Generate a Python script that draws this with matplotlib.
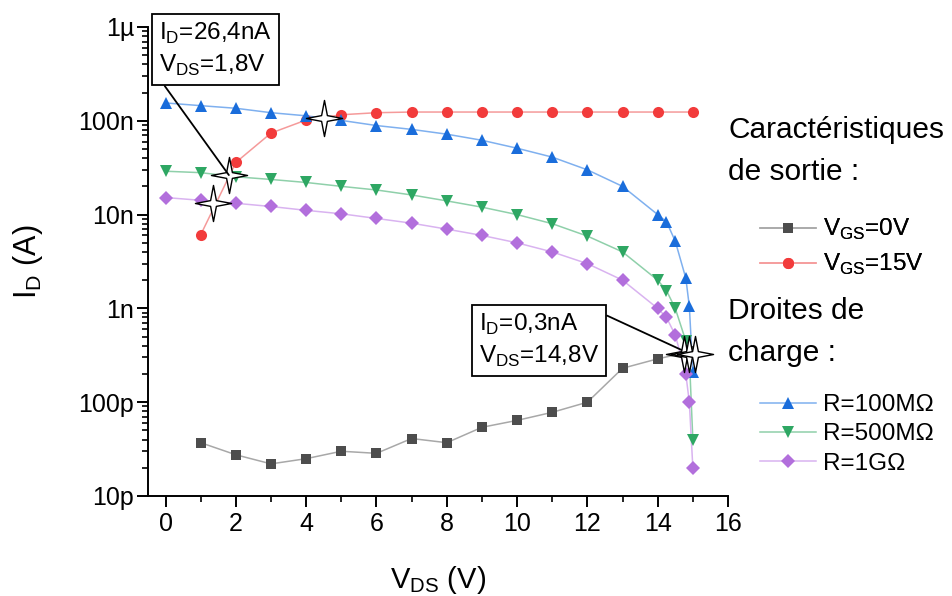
import numpy as np
import matplotlib
matplotlib.use('Agg')
import matplotlib.pyplot as plt
from matplotlib.path import Path
from matplotlib.lines import Line2D
from matplotlib.ticker import FixedLocator, LogLocator, NullFormatter, MultipleLocator

plt.rcParams['font.family'] = ['Liberation Sans', 'DejaVu Sans']

# output characteristics
vds_vgs0 = [1, 2, 3, 4, 5, 6, 7, 8, 9, 10, 11, 12, 13, 14, 15]
id_vgs0 = [37e-12, 27.5e-12, 22e-12, 25e-12, 30e-12, 28.5e-12, 41e-12, 37e-12, 54e-12,
           64e-12, 78e-12, 100e-12, 230e-12, 290e-12, 350e-12]

vds_vgs15 = [1, 2, 3, 4, 5, 6, 7, 8, 9, 10, 11, 12, 13, 14, 15]
id_vgs15 = [6.1e-9, 36e-9, 74e-9, 102e-9, 116e-9, 122e-9, 124e-9, 124e-9, 124e-9,
            124e-9, 124e-9, 124e-9, 124e-9, 124e-9, 124e-9]

# load lines
vds_load = [0, 1, 2, 3, 4, 5, 6, 7, 8, 9, 10, 11, 12, 13, 14, 14.25, 14.5, 14.8, 14.9, 15]
id_r100m = [155e-9, 145e-9, 136e-9, 122e-9, 113e-9, 101e-9, 89e-9, 81e-9, 72e-9, 62e-9,
            51e-9, 41e-9, 30e-9, 20e-9, 10e-9, 8.4e-9, 5.2e-9, 2.1e-9, 1.05e-9, 0.21e-9]
id_r500m = [29e-9, 28e-9, 25.3e-9, 23.7e-9, 22e-9, 20e-9, 18.3e-9, 16.2e-9, 14e-9, 12e-9,
            10e-9, 8e-9, 5.9e-9, 4e-9, 2e-9, 1.55e-9, 1.0e-9, 0.45e-9, 0.3e-9, 0.04e-9]
id_r1g = [15.2e-9, 14.2e-9, 13.2e-9, 12.2e-9, 11.1e-9, 10.2e-9, 9.1e-9, 8.1e-9, 7e-9, 6e-9,
          5e-9, 4e-9, 3e-9, 2e-9, 1e-9, 0.8e-9, 0.52e-9, 0.2e-9, 0.1e-9, 0.02e-9]

# operating points (stars)
star_x = [1.8, 1.35, 4.5, 14.75, 14.9, 15.05]
star_y = [26.4e-9, 13.4e-9, 106e-9, 0.33e-9, 0.33e-9, 0.33e-9]

ytick_vals = [1e-11, 1e-10, 1e-9, 1e-8, 1e-7, 1e-6]
ytick_labels = ['10p', '100p', '1n', '10n', '100n', '1µ']

fig = plt.figure(figsize=(9.53, 5.96), dpi=100)
ax = fig.add_axes([148 / 953, 1 - 496 / 596, (728 - 148) / 953, (496 - 27) / 596])

series = [
    (vds_vgs0, id_vgs0, 's', '#4d4d4d', '#a8a8a8', 7, 'V$_\\mathregular{GS}$=0V'),
    (vds_vgs15, id_vgs15, 'o', '#f23b3b', '#f59a9a', 8, 'V$_\\mathregular{GS}$=15V'),
    (vds_load, id_r100m, '^', '#1a6ddb', '#7fb0ef', 9, 'R=100MΩ'),
    (vds_load, id_r500m, 'v', '#2ea763', '#8fd0aa', 9, 'R=500MΩ'),
    (vds_load, id_r1g, 'D', '#b26fdc', '#d9b3f0', 7, 'R=1GΩ'),
]
handles = []
for x, y, m, mc, lc, ms, lab in series:
    ax.plot(x, y, '-', color=lc, lw=1.1, zorder=2)
    ax.plot(x, y, m, color=mc, ms=ms, mew=0, zorder=3)
    handles.append(Line2D([], [], color=lc, lw=1.1, marker=m, mfc=mc, mec=mc, ms=ms, mew=0))

r = 0.16
star = Path([(0, 1), (r, r), (1, 0), (r, -r), (0, -1), (-r, -r), (-1, 0), (-r, r), (0, 1)],
            [Path.MOVETO] + [Path.LINETO] * 7 + [Path.CLOSEPOLY])
ax.plot(star_x, star_y, linestyle='none', marker=star, ms=26, mfc='white', mec='black',
        mew=1.0, zorder=6)

ax.set_yscale('log')
ax.set_ylim(1e-11, 1e-6)
ax.set_xlim(-0.5, 16)
ax.yaxis.set_major_locator(FixedLocator(ytick_vals))
ax.set_yticklabels(ytick_labels)
ax.yaxis.set_minor_locator(LogLocator(base=10, subs=np.arange(2, 10)))
ax.yaxis.set_minor_formatter(NullFormatter())
ax.xaxis.set_major_locator(MultipleLocator(2))
ax.xaxis.set_minor_locator(MultipleLocator(1))

for s in ['top', 'right']:
    ax.spines[s].set_visible(False)
for s in ['left', 'bottom']:
    ax.spines[s].set_linewidth(1.4)
ax.tick_params(which='major', direction='out', length=8, width=1.4, labelsize=18)
ax.tick_params(axis='y', which='major', pad=2)
ax.tick_params(which='minor', direction='out', length=4, width=1.2)

ax.set_xlabel('V$_\\mathregular{DS}$ (V)', fontsize=21, labelpad=20)
ax.set_ylabel('I$_\\mathregular{D}$ (A)', fontsize=22, labelpad=24)

# annotation boxes
box = dict(boxstyle='square,pad=0.3', fc='white', ec='black', lw=1.3)
ax.annotate('I$_\\mathregular{D}$=26,4nA\nV$_\\mathregular{DS}$=1,8V', xy=(1.8, 26.4e-9),
            xytext=(159, 518), textcoords='figure pixels', ha='left', va='bottom',
            fontsize=17.5, linespacing=1.35, bbox=box, zorder=7,
            arrowprops=dict(arrowstyle='-', lw=1.3, color='black', relpos=(0, 0),
                            shrinkA=0, shrinkB=0))
ax.annotate('I$_\\mathregular{D}$=0,3nA\nV$_\\mathregular{DS}$=14,8V', xy=(14.9, 0.33e-9),
            xytext=(479, 227), textcoords='figure pixels', ha='left', va='bottom',
            fontsize=17.5, linespacing=1.35, bbox=box, zorder=5,
            arrowprops=dict(arrowstyle='-', lw=1.3, color='black', relpos=(1, 1),
                            shrinkA=0, shrinkB=0))

# legend
fig.text(728 / 953, 1 - 151 / 596, 'Caractéristiques\nde sortie :', fontsize=21.5,
         ha='left', va='center', linespacing=1.6)
fig.text(728 / 953, 1 - 332 / 596, 'Droites de\ncharge :', fontsize=21.5,
         ha='left', va='center', linespacing=1.6)
leg1 = fig.legend(handles[:2], [s[6] for s in series[:2]], loc='upper left',
                  bbox_to_anchor=(748 / 953, 1 - 205 / 596), frameon=False, fontsize=17.5,
                  handlelength=2.3, handletextpad=0.3, labelspacing=0.4, borderpad=0)
leg2 = fig.legend(handles[2:], [s[6] for s in series[2:]], loc='upper left',
                  bbox_to_anchor=(748 / 953, 1 - 382 / 596), frameon=False, fontsize=17.5,
                  handlelength=2.3, handletextpad=0.3, labelspacing=0.3, borderpad=0)
fig.add_artist(leg1)

fig.savefig('out.png', dpi=100)
